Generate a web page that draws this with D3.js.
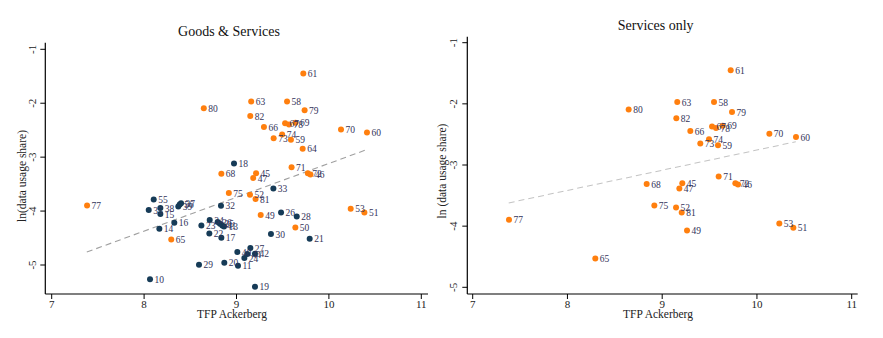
<!DOCTYPE html>
<html><head><meta charset="utf-8">
<script src="https://cdn.jsdelivr.net/npm/d3@7"></script>
<style>body{margin:0;background:#fff}svg{display:block}text{font-family:"Liberation Serif","DejaVu Serif",serif}</style>
</head><body><svg id="c" width="883" height="338"></svg>
<script>
// Services (orange) points
const svcLabels = ["61","63","58","80","79","82","67","78","69","66","70","60","74","73","59","64","71","68","45","47","72","46","75","52","81","77","53","51","49","50","65"];
const svcX = [9.723,9.159,9.547,8.646,9.737,9.149,9.526,9.568,9.638,9.297,10.131,10.412,9.494,9.402,9.589,9.716,9.596,8.836,9.212,9.181,9.772,9.800,8.917,9.146,9.206,7.383,10.236,10.384,9.262,9.637,8.294];
const svcY = [-1.45,-1.969,-1.969,-2.094,-2.132,-2.236,-2.372,-2.394,-2.360,-2.443,-2.487,-2.541,-2.579,-2.650,-2.677,-2.846,-3.189,-3.309,-3.298,-3.385,-3.298,-3.320,-3.663,-3.696,-3.778,-3.897,-3.957,-4.028,-4.071,-4.303,-4.529];
// Labels not shown in the "Services only" panel
const svcOnlyExclude = ["64","50"];
// Goods (dark) points
const gdsLabels = ["18","33","55","35","38","15","39","56","37","32","16","14","34","23","36","25","41","13","22","17","26","28","30","21","27","40","44","42","24","29","20","11","10","19"];
const gdsX = [8.973,9.399,8.104,8.050,8.176,8.176,8.370,8.385,8.400,8.832,8.327,8.165,8.710,8.620,8.796,8.821,8.846,8.865,8.706,8.836,9.482,9.652,9.373,9.792,9.150,9.009,9.117,9.200,9.085,8.594,8.868,9.016,8.064,9.200];
const gdsY = [-3.118,-3.581,-3.785,-3.982,-3.944,-4.056,-3.914,-3.880,-3.855,-3.902,-4.217,-4.328,-4.167,-4.266,-4.204,-4.235,-4.266,-4.285,-4.414,-4.494,-4.025,-4.099,-4.426,-4.513,-4.685,-4.759,-4.796,-4.791,-4.870,-4.995,-4.957,-5.013,-5.266,-5.402];
// Fitted lines (endpoints)
const fitAllX = [7.38,10.41], fitAllY = [-4.76,-2.86];
const fitSvcX = [7.38,10.41], fitSvcY = [-3.62,-2.62];
const xTicks = [7,8,9,10,11];
const yTicks = [-1,-2,-3,-4,-5];
const titles = ["Goods & Services","Services only"];
const xTitle = "TFP Ackerberg";
const yTitles = ["ln(data usage share)","ln (data usage share)"];

const ORANGE = "#ff7f0e", NAVY = "#163b57", LABEL = "#33335a";
const svg = d3.select("#c");

const panels = [
  {x: d3.scaleLinear().domain([7,11]).range([51.7,421.3]),
   y: d3.scaleLinear().domain([-1,-5]).range([49.3,265]),
   left:45.3, right:428, top:42.7, bottom:294, titleX:229, titleY:35.5, yLabX:25.5, tickLabX:36, xLabX:232,
   pts: [...gdsLabels.map((l,i)=>({l,x:gdsX[i],y:gdsY[i],c:NAVY})), ...svcLabels.map((l,i)=>({l,x:svcX[i],y:svcY[i],c:ORANGE}))],
   fx: fitAllX, fy: fitAllY, fitColor:"#a0a0a0", yLabY:176},
  {x: d3.scaleLinear().domain([7,11]).range([472.7,851.7]),
   y: d3.scaleLinear().domain([-1,-5]).range([42.7,287.3]),
   left:467.3, right:857.7, top:36.7, bottom:294, titleX:655.7, titleY:29.5, yLabX:446, tickLabX:456.5, xLabX:658,
   pts: svcLabels.map((l,i)=>({l,x:svcX[i],y:svcY[i],c:ORANGE})).filter(d=>!svcOnlyExclude.includes(d.l)),
   fx: fitSvcX, fy: fitSvcY, fitColor:"#c4c4c4", yLabY:171}
];

panels.forEach((p,pi)=>{
  const g = svg.append("g");
  // axes lines
  g.append("line").attr("x1",p.left).attr("x2",p.left).attr("y1",p.top).attr("y2",p.bottom).attr("stroke","#000").attr("stroke-width",1.2);
  g.append("line").attr("x1",p.left).attr("x2",p.right).attr("y1",p.bottom).attr("y2",p.bottom).attr("stroke","#000").attr("stroke-width",1.2);
  // x ticks
  xTicks.forEach(t=>{
    g.append("line").attr("x1",p.x(t)).attr("x2",p.x(t)).attr("y1",p.bottom).attr("y2",p.bottom+5).attr("stroke","#000");
    g.append("text").attr("x",p.x(t)).attr("y",p.bottom+14).attr("text-anchor","middle").attr("font-size",11).attr("fill","#222").text(t);
  });
  yTicks.forEach(t=>{
    g.append("line").attr("x1",p.left-5).attr("x2",p.left).attr("y1",p.y(t)).attr("y2",p.y(t)).attr("stroke","#000");
    g.append("text").attr("transform",`translate(${p.tickLabX},${p.y(t)}) rotate(-90)`).attr("text-anchor","middle").attr("font-size",11).attr("fill","#222").text(t);
  });
  g.append("text").attr("x",p.titleX).attr("y",p.titleY).attr("text-anchor","middle").attr("font-size",14).attr("fill","#111").text(titles[pi]);
  g.append("text").attr("x",p.xLabX).attr("y",318).attr("text-anchor","middle").attr("font-size",11.5).attr("fill","#222").text(xTitle);
  g.append("text").attr("transform",`translate(${p.yLabX},${p.yLabY}) rotate(-90)`).attr("text-anchor","middle").attr("font-size",11.5).attr("fill","#222").text(yTitles[pi]);
  // fit line
  g.append("line").attr("x1",p.x(p.fx[0])).attr("y1",p.y(p.fy[0])).attr("x2",p.x(p.fx[1])).attr("y2",p.y(p.fy[1]))
    .attr("stroke",p.fitColor).attr("stroke-width",1.1).attr("stroke-dasharray","6,4");
  // points
  g.selectAll("circle.p").data(p.pts).join("circle").attr("cx",d=>p.x(d.x)).attr("cy",d=>p.y(d.y)).attr("r",3).attr("fill",d=>d.c);
  g.selectAll("text.l").data(p.pts).join("text").attr("x",d=>p.x(d.x)+4.5).attr("y",d=>p.y(d.y)).attr("dy","0.38em")
    .attr("font-size",9.5).attr("fill",LABEL).text(d=>d.l);
});
</script></body></html>
